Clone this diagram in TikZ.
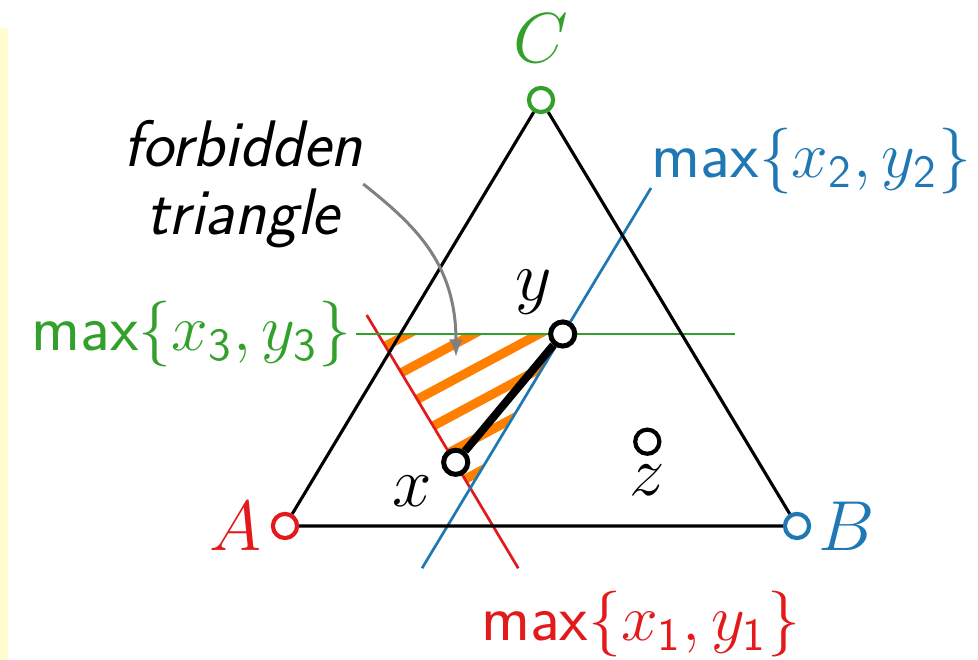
\RequirePackage{fix-cm}
\documentclass[tikz,border=0pt]{standalone}
\usepackage{tikz}
\usetikzlibrary{arrows.meta,positioning}
\renewcommand{\familydefault}{\sfdefault}
\DeclareSymbolFont{operators}{TU}{lmss}{m}{n}
\definecolor{vertred}{HTML}{E31A1C}
\definecolor{vertblue}{HTML}{1F78B4}
\definecolor{vertgreen}{HTML}{33A02C}
\definecolor{hatchorange}{HTML}{FF7F00}
\definecolor{noteyellow}{RGB}{255,253,208}

\begin{document}
\begin{tikzpicture}[
    x=0.24pt, y=-0.24pt,
    pt/.style={draw, circle, fill=white, line width=1pt, minimum size=5.8pt, inner sep=0pt},
    ptbig/.style={pt, line width=1.2pt},
    lbl/.style={inner sep=0pt, font=\fontsize{17}{20}\selectfont},
    maxlbl/.style={inner sep=0pt, font=\fontsize{15.8}{18}\selectfont},
    side/.style={line width=0.75pt},
    level/.style={line width=0.65pt},
    stripe/.style={line width=2.2pt, color=hatchorange},
    pointer/.style={-{Latex[length=4.2pt,width=3.3pt]}, line width=0.72pt, color=gray}
]
\useasboundingbox (0,0) rectangle (978,660);
\fill[noteyellow] (0,28) rectangle (8,660);

% level lines
\coordinate (r1) at (366.7,315);
\coordinate (r2) at (518.3,568.3);
\coordinate (b1) at (422,568.3);
\coordinate (b2) at (651,188);
\coordinate (g1) at (356,334);
\coordinate (g2) at (735,334);

% forbidden triangle
\coordinate (h1) at (intersection of r1--r2 and g1--g2);
\coordinate (h2) at (intersection of b1--b2 and g1--g2);
\coordinate (h3) at (intersection of r1--r2 and b1--b2);
\begin{scope}
  \clip (h1) -- (h2) -- (h3) -- cycle;
  \foreach \k in {-2,...,5}
    \draw[stripe] ({403.3+14.66*\k-264.3},{371.7+27.31*\k+141.9}) -- ++(528.6,-283.8);
\end{scope}

\draw[level, vertred] (r1) -- (r2);
\draw[level, vertblue] (b1) -- (b2);
\draw[level, vertgreen] (g1) -- (g2);

% corners and points
\node[pt, draw=vertred] (A) at (285,526) {};
\node[pt, draw=vertblue] (B) at (797,526) {};
\node[pt, draw=vertgreen] (C) at (541,100) {};
\draw[side] (A) -- (B) -- (C) -- (A);

\node[ptbig] (px) at (455.7,462.3) {};
\node[ptbig] (py) at (562.7,334) {};
\node[pt] (pz) at (647.3,441.7) {};
\draw[line width=1.9pt] (px) -- (py);

\node[lbl, text=vertgreen, above=5.5pt of C] (labC) {$C$};
\node[lbl, text=vertred, left=2pt of A] (labA) {$A$};
\node[lbl, text=vertblue, right=1.5pt of B] (labB) {$B$};
\node[lbl, below left=0.7pt and 3pt of px] (labx) {$x$};
\node[lbl, above left=2pt and 0pt of py] (laby) {$y$};
\node[lbl, below=2pt of pz] (labz) {$z$};

\node[maxlbl, text=vertgreen, left=1pt of g1] (max3) {$\max\{x_3, y_3\}$};
\node[maxlbl, text=vertblue, anchor=south west, yshift=-1.7pt] (max2) at (b2) {$\max\{x_2, y_2\}$};
\node[maxlbl, text=vertred, below right=5.3pt and -9.1pt of r2] (max1) {$\max\{x_1, y_1\}$};

% pointer to the hatched area
\node[inner sep=0pt, align=center, font=\fontsize{15.8}{16.2}\selectfont\slshape] (forb) at (243,184) {forbidden\\triangle};
\coordinate (ftip) at (456,357);
\draw[pointer] (forb.east) .. controls +(50,40) and +(0,-95) .. (ftip);
\end{tikzpicture}
\end{document}
